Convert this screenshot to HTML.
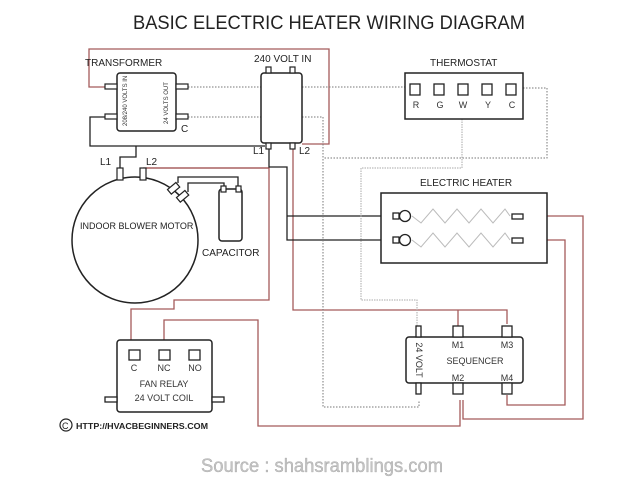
<!DOCTYPE html>
<html><head><meta charset="utf-8"><style>html,body{margin:0;padding:0;background:#fff}svg{display:block}</style></head>
<body>
<svg width="640" height="480" viewBox="0 0 640 480" xmlns="http://www.w3.org/2000/svg" font-family="Liberation Sans, sans-serif">
<rect width="640" height="480" fill="#fff"/>
<text x="133" y="29" font-size="19" fill="#222" textLength="392" lengthAdjust="spacingAndGlyphs">BASIC ELECTRIC HEATER WIRING DIAGRAM</text>

<!-- red wires -->
<g fill="none" stroke="#a55a5a" stroke-width="1.3">
<polyline points="105,87 89,87 89,49 329,49 329,144 302,144"/>
<polyline points="146,168 146,168 269,168 269,300 174,300 174,309 131,309 131,354"/>
<polyline points="164,354 164,320 258,320 258,426 460,426 460,400"/>
<polyline points="293,149 293,310 507,310 507,324"/>
<line x1="458" y1="310" x2="458" y2="328"/>
<polyline points="523,216 583,216 583,419 463,419 463,400"/>
<polyline points="523,240 565,240 565,405 507,405 507,395"/>
</g>
<line x1="143" y1="168" x2="269" y2="168" stroke="#a55a5a" stroke-width="1.3"/>

<!-- black wires -->
<g fill="none" stroke="#222" stroke-width="1.3">
<polyline points="105,117 90,117 90,146 265,146"/>
<polyline points="136,146 136,157 120,157 120,168"/>
<polyline points="269,149 269,167 287,167 287,240 393,240"/>
<line x1="287" y1="216" x2="393" y2="216"/>
<polyline points="178,183 178,177 238,177 238,187"/>
<polyline points="188,192 188,183 224,183 224,187"/>
</g>

<!-- dotted wires -->
<g fill="none" stroke="#777" stroke-width="1" stroke-dasharray="1.5,1.5">
<line x1="188" y1="87" x2="410" y2="87"/>
<polyline points="188,117 323,117 323,407 419,407 419,400"/>
<polyline points="517,88 547,88 547,158 323,158"/>
</g>
<g fill="none" stroke="#aaa" stroke-width="1" stroke-dasharray="1.5,1">
<polyline points="462,119 462,168 361,168 361,300 417,300 417,328"/>
</g>

<!-- transformer -->
<text x="85" y="66" font-size="10" fill="#222">TRANSFORMER</text>
<rect x="117" y="73" width="59" height="58" rx="3" fill="#fff" stroke="#222" stroke-width="1.5"/>
<g fill="#fff" stroke="#222" stroke-width="1.2">
<rect x="105" y="84" width="12" height="5"/><rect x="105" y="114" width="12" height="5"/>
<rect x="176" y="84" width="12" height="5"/><rect x="176" y="114" width="12" height="5"/>
</g>
<text font-size="6" fill="#333" transform="translate(127,126) rotate(-90)">208/240 VOLTS IN</text>
<text font-size="6" fill="#333" transform="translate(168,124) rotate(-90)">24 VOLTS OUT</text>
<text x="181" y="132" font-size="10" fill="#222">C</text>

<!-- 240 volt in -->
<text x="254" y="62" font-size="10" fill="#222">240 VOLT IN</text>
<rect x="261" y="73" width="41" height="70" rx="3" fill="#fff" stroke="#222" stroke-width="1.5"/>
<g fill="#fff" stroke="#222" stroke-width="1.2">
<rect x="266" y="67" width="5" height="6"/><rect x="290" y="67" width="5" height="6"/>
<rect x="266" y="143" width="5" height="6"/><rect x="290" y="143" width="5" height="6"/>
</g>
<text x="253" y="154" font-size="10" fill="#222">L1</text>
<text x="299" y="154" font-size="10" fill="#222">L2</text>

<!-- thermostat -->
<text x="430" y="66" font-size="10" fill="#222">THERMOSTAT</text>
<rect x="405" y="73" width="118" height="46" fill="#fff" stroke="#222" stroke-width="1.5"/>
<g fill="#fff" stroke="#222" stroke-width="1.3">
<rect x="410" y="84" width="10" height="11"/><rect x="434" y="84" width="10" height="11"/>
<rect x="458" y="84" width="10" height="11"/><rect x="482" y="84" width="10" height="11"/>
<rect x="506" y="84" width="10" height="11"/>
</g>
<g font-size="9" fill="#333" text-anchor="middle">
<text x="416" y="108">R</text><text x="440" y="108">G</text><text x="463" y="108">W</text><text x="488" y="108">Y</text><text x="512" y="108">C</text>
</g>

<!-- motor -->
<circle cx="135" cy="240" r="63" fill="#fff" stroke="#222" stroke-width="1.5"/>
<text x="80" y="229" font-size="9" fill="#222">INDOOR BLOWER MOTOR</text>
<g fill="#fff" stroke="#222" stroke-width="1.2">
<rect x="117" y="168" width="6" height="12"/><rect x="140" y="168" width="6" height="12"/>
<rect x="171" y="183" width="6" height="11" transform="rotate(50 174 188)"/>
<rect x="180" y="191" width="6" height="11" transform="rotate(50 183 196)"/>
</g>
<text x="100" y="165" font-size="10" fill="#222">L1</text>
<text x="146" y="165" font-size="10" fill="#222">L2</text>
<rect x="219" y="189" width="23" height="52" rx="3" fill="#fff" stroke="#222" stroke-width="1.5"/>
<g fill="#fff" stroke="#222" stroke-width="1.2"><rect x="221" y="186" width="5" height="6"/><rect x="236" y="186" width="5" height="6"/></g>
<text x="202" y="256" font-size="10" fill="#222">CAPACITOR</text>

<!-- heater -->
<text x="420" y="186" font-size="10" fill="#222">ELECTRIC HEATER</text>
<rect x="381" y="193" width="166" height="70" fill="#fff" stroke="#222" stroke-width="1.5"/>
<g fill="none" stroke="#bbb" stroke-width="1">
<polyline points="412,216 421,223 433,209 445,223 457,209 469,223 481,209 493,223 505,209 510,216"/>
<polyline points="412,240 421,247 433,233 445,247 457,233 469,247 481,233 493,247 505,233 510,240"/>
</g>
<g fill="#fff" stroke="#222" stroke-width="1.3">
<rect x="393" y="213" width="6" height="6"/><rect x="393" y="237" width="6" height="6"/>
<circle cx="405" cy="216" r="5.5"/><circle cx="405" cy="240" r="5.5"/>
<rect x="512" y="214" width="11" height="5"/><rect x="512" y="238" width="11" height="5"/>
</g>

<!-- fan relay -->
<rect x="117" y="340" width="95" height="72" rx="3" fill="#fff" stroke="#222" stroke-width="1.5"/>
<g fill="#fff" stroke="#222" stroke-width="1.3">
<rect x="129" y="350" width="11" height="10"/><rect x="159" y="350" width="11" height="10"/><rect x="189" y="350" width="11" height="10"/>
<rect x="105" y="397" width="12" height="5"/><rect x="212" y="397" width="12" height="5"/>
</g>
<g font-size="9" fill="#333" text-anchor="middle">
<text x="134" y="371">C</text><text x="164" y="371">NC</text><text x="195" y="371">NO</text>
<text x="164" y="387">FAN RELAY</text><text x="164" y="401">24 VOLT COIL</text>
</g>

<!-- sequencer -->
<rect x="406" y="337" width="117" height="46" rx="3" fill="#fff" stroke="#222" stroke-width="1.5"/>
<g fill="#fff" stroke="#222" stroke-width="1.3">
<rect x="453" y="326" width="10" height="11"/><rect x="502" y="326" width="10" height="11"/>
<rect x="453" y="383" width="10" height="11"/><rect x="502" y="383" width="10" height="11"/>
<rect x="416" y="326" width="5" height="11"/><rect x="416" y="383" width="5" height="11"/>
</g>
<g font-size="9" fill="#333" text-anchor="middle">
<text x="458" y="348">M1</text><text x="507" y="348">M3</text>
<text x="475" y="364">SEQUENCER</text>
<text x="458" y="381">M2</text><text x="507" y="381">M4</text>
</g>
<text font-size="9" fill="#333" text-anchor="middle" transform="translate(416,360) rotate(90)">24 VOLT</text>

<!-- copyright -->
<circle cx="66" cy="425" r="6" fill="none" stroke="#222" stroke-width="1.2"/>
<text x="62" y="429" font-size="9" fill="#222">C</text>
<text x="76" y="429" font-size="8" font-weight="bold" fill="#222" textLength="132" lengthAdjust="spacingAndGlyphs">HTTP://HVACBEGINNERS.COM</text>

<text x="201" y="472" font-size="19" fill="#c4c4c4" stroke="#999" stroke-width="0.3" textLength="242" lengthAdjust="spacingAndGlyphs">Source : shahsramblings.com</text>
</svg>
</body></html>
